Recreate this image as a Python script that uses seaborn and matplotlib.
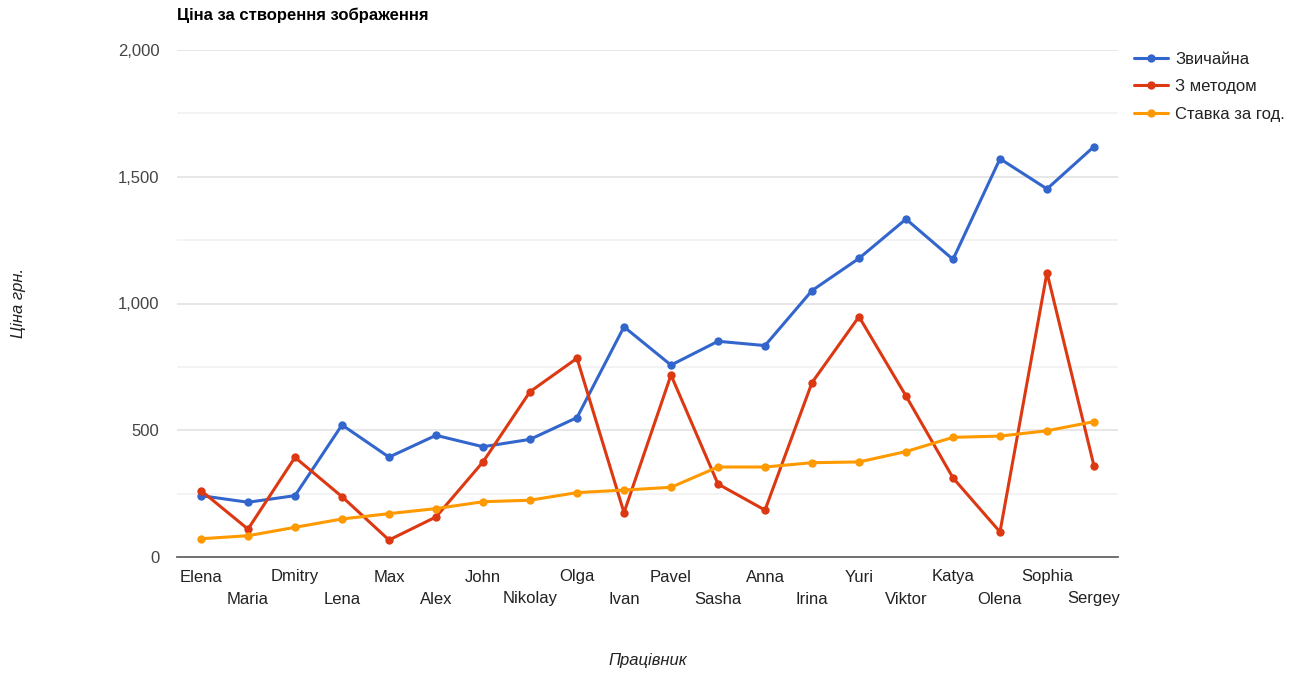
import matplotlib
matplotlib.use("Agg")
import matplotlib.pyplot as plt
from matplotlib.ticker import MultipleLocator, FuncFormatter
import numpy as np
import pandas as pd
import seaborn as sns

workers = ["Elena", "Maria", "Dmitry", "Lena", "Max", "Alex", "John", "Nikolay",
           "Olga", "Ivan", "Pavel", "Sasha", "Anna", "Irina", "Yuri", "Viktor",
           "Katya", "Olena", "Sophia", "Sergey"]
regular = [242, 216, 242, 521, 394, 480, 435, 464, 550, 908, 757, 851, 834,
           1051, 1178, 1333, 1174, 1571, 1452, 1619]
with_method = [262, 110, 393, 238, 67, 158, 375, 652, 784, 175, 718, 288, 185,
               688, 948, 635, 312, 99, 1122, 359]
hourly_rate = [72, 84, 117, 150, 171, 191, 218, 224, 254, 264, 275, 355, 355,
               372, 375, 416, 472, 477, 498, 534]
series_names = ["Звичайна", "З методом", "Ставка за год."]
colors = ["#3366cc", "#dc3912", "#ff9900"]

df = pd.DataFrame({
    "Працівник": workers * 3,
    "pos": list(range(len(workers))) * 3,
    "value": regular + with_method + hourly_rate,
    "series": [series_names[0]] * len(workers)
              + [series_names[1]] * len(workers)
              + [series_names[2]] * len(workers),
})

sns.set_style("white")
plt.rcParams["font.family"] = ["Liberation Sans", "DejaVu Sans"]
FS = 12

fig = plt.figure(figsize=(13, 6.73), dpi=100)
ax = fig.add_axes([177.5 / 1300, 1 - 557 / 673, 940 / 1300, 507 / 673])

sns.lineplot(data=df, x="pos", y="value", hue="series", hue_order=series_names,
             palette=colors, marker="o", markersize=6, markeredgewidth=0,
             linewidth=2.2, ax=ax, legend=True)

ax.set_xlim(-0.5, len(workers) - 0.5)
ax.set_ylim(0, 2000)
ax.yaxis.set_major_locator(MultipleLocator(500))
ax.yaxis.set_minor_locator(MultipleLocator(250))
ax.yaxis.set_major_formatter(FuncFormatter(lambda v, p: f"{int(v):,}"))
ax.grid(axis="y", which="major", color="#e0e0e0", linewidth=1.1)
ax.grid(axis="y", which="minor", color="#f0f0f0", linewidth=1.1)
ax.set_axisbelow(True)
for side in ["top", "right", "left"]:
    ax.spines[side].set_visible(False)
ax.spines["bottom"].set_color("#666666")
ax.spines["bottom"].set_linewidth(1.3)
ax.tick_params(axis="y", which="both", length=0, pad=13, labelsize=FS,
               labelcolor="#444444")
ax.tick_params(axis="x", length=0, labelsize=FS, labelcolor="#222222")

ax.set_xticks(range(len(workers)))
ax.set_xticklabels(["" for _ in workers])
for i, name in enumerate(workers):
    ax.annotate(name, xy=(i, 0), xycoords=("data", "axes fraction"),
                xytext=(0, -20 if i % 2 == 0 else -42), textcoords="offset pixels",
                ha="center", va="center", fontsize=FS, color="#222222")

ax.set_xlabel("")
ax.set_ylabel("")
fig.text(648 / 1300, 1 - 661 / 673, "Працівник", ha="center", va="center",
         fontsize=FS, style="italic", color="#222222")
fig.text(18 / 1300, 1 - 303 / 673, "Ціна грн.", ha="center", va="center",
         rotation=90, fontsize=FS, style="italic", color="#222222")
fig.text(177 / 1300, 1 - 15 / 673, "Ціна за створення зображення", ha="left",
         va="center", fontsize=FS, fontweight="bold", color="#000000")

leg = ax.legend(loc="upper left", bbox_to_anchor=(1.0056, 1.020), frameon=False,
                fontsize=FS, handlelength=2.0, handletextpad=0.45,
                labelspacing=0.75, borderaxespad=0.3)
for t in leg.get_texts():
    t.set_color("#222222")

fig.savefig("out.png", dpi=100, facecolor="white")
